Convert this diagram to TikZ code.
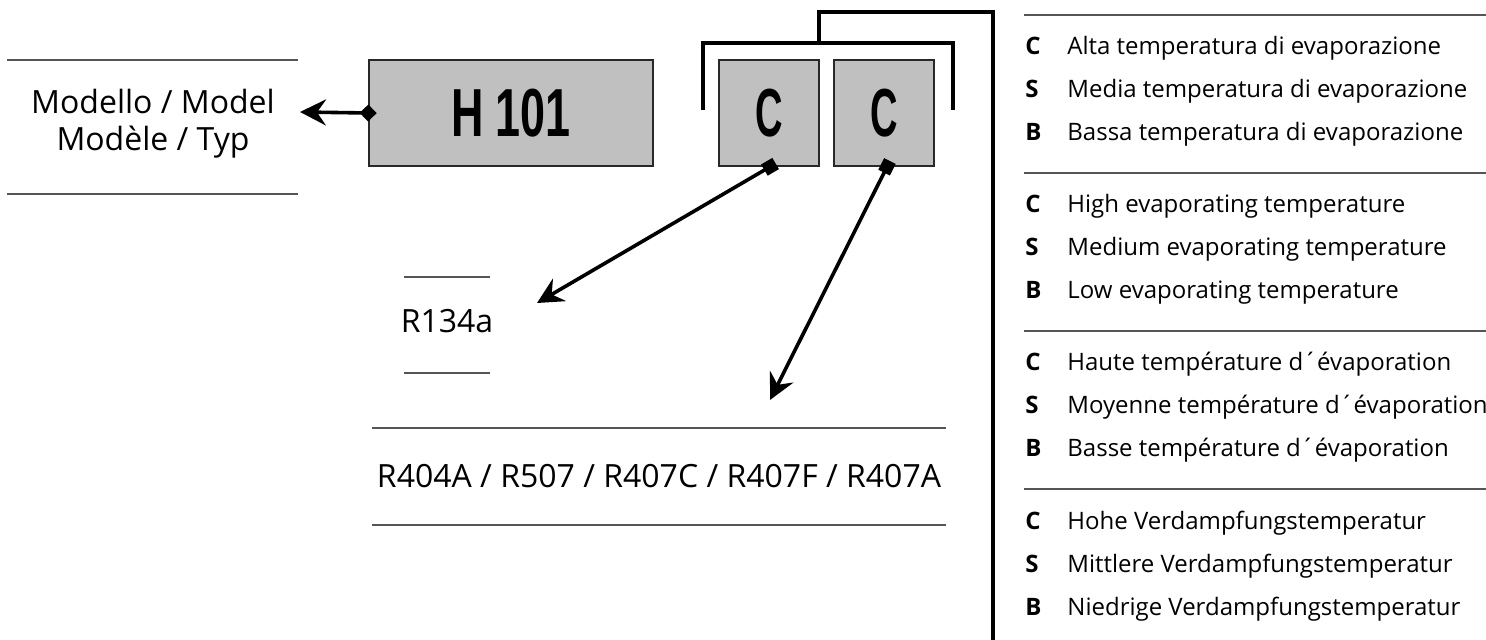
\documentclass[tikz,border=0pt]{standalone}
\usepackage{fontspec}
\usepackage{graphicx}
\setmainfont{Open Sans}
\newfontfamily\codefont{Liberation Sans}
\usetikzlibrary{arrows.meta}
\definecolor{boxfill}{RGB}{192,192,192}
\definecolor{boxedge}{RGB}{40,40,40}
\definecolor{rulegray}{RGB}{85,85,85}
\begin{document}
\begin{tikzpicture}[x=0.5pt,y=-0.5pt,
  rulel/.style={draw=rulegray, line width=0.7pt},
  codebox/.style={draw=boxedge, fill=boxfill, line width=0.8pt, inner sep=0pt,
    font=\codefont\bfseries\fontsize{34}{34}\selectfont},
  bigtext/.style={anchor=base, inner sep=0pt, font=\fontsize{16}{18}\selectfont},
  legkey/.style={anchor=base west, inner sep=0pt, font=\bfseries\fontsize{12}{14}\selectfont},
  legtext/.style={anchor=base west, inner sep=0pt, font=\fontsize{12}{14}\selectfont},
  conn/.style={line width=1.8pt},
  bracket/.style={line width=2pt, line join=miter, line cap=rect},
]
\useasboundingbox (0,0) rectangle (1486,640);

% left model label
\draw[rulel] (7,60) -- (298,60);
\draw[rulel] (7,194) -- (298,194);
\node[bigtext] (model1) at (153,114) {Modello / Model};
\node[bigtext] (model2) at (153,151) {Modèle / Typ};

% boxes
\node[codebox, minimum width=142pt, minimum height=53pt] (h) at (511,113) {\scalebox{0.66}[1]{H 101}};
\node[codebox, minimum width=50pt, minimum height=53pt] (c1) at (769,113) {\scalebox{0.56}[1]{C}};
\node[codebox, minimum width=50pt, minimum height=53pt] (c2) at (884,113) {\scalebox{0.56}[1]{C}};

% brackets
\draw[bracket] (703,108) |- (953,43) -- (953,108);
\draw[bracket] (819,43) |- (993,12) -- (993,642);

% refrigerants
\draw[rulel] (404,277) -- (490,277);
\draw[rulel] (404,373) -- (490,373);
\node[bigtext] (r134) at (447,333) {R134a};
\draw[rulel] (372,428) -- (946,428);
\draw[rulel] (372,525) -- (946,525);
\node[bigtext] (r404) at (659,487) {R404A / R507 / R407C / R407F / R407A};

% connectors
\coordinate (tipm) at (300,112);
\coordinate (tipa) at (537,303);
\coordinate (tipb) at (770,400);
\draw[conn, {Diamond[length=8.5pt,width=8.5pt]}-{Stealth[length=13pt,width=13pt,inset=4.5pt]}, shorten <=-4.25pt] (h.west) -- (tipm);
\draw[conn, {Square[length=6.5pt,width=6.5pt]}-{Stealth[length=13pt,width=13pt,inset=4.5pt]}, shorten <=-3.25pt] ([xshift=0.5pt]c1.south) -- (tipa);
\draw[conn, {Square[length=6.5pt,width=6.5pt]}-{Stealth[length=13pt,width=13pt,inset=4.5pt]}, shorten <=-3.25pt] ([xshift=1.5pt]c2.south) -- (tipb);

% legend
\draw[rulel] (1024,15) -- (1486,15);
\draw[rulel] (1024,173) -- (1486,173);
\draw[rulel] (1024,331) -- (1486,331);
\draw[rulel] (1024,489) -- (1486,489);

\node[legkey] (k1) at (1025,55) {C};
\node[legtext] (t1) at (1067,55) {Alta temperatura di evaporazione};
\node[legkey] (k2) at (1025,98) {S};
\node[legtext] (t2) at (1067,98) {Media temperatura di evaporazione};
\node[legkey] (k3) at (1025,141) {B};
\node[legtext] (t3) at (1067,141) {Bassa temperatura di evaporazione};

\node[legkey] (k4) at (1025,213) {C};
\node[legtext] (t4) at (1067,213) {High evaporating temperature};
\node[legkey] (k5) at (1025,256) {S};
\node[legtext] (t5) at (1067,256) {Medium evaporating temperature};
\node[legkey] (k6) at (1025,299) {B};
\node[legtext] (t6) at (1067,299) {Low evaporating temperature};

\node[legkey] (k7) at (1025,371) {C};
\node[legtext] (t7) at (1067,371) {Haute température d´évaporation};
\node[legkey] (k8) at (1025,414) {S};
\node[legtext] (t8) at (1067,414) {Moyenne température d´évaporation};
\node[legkey] (k9) at (1025,457) {B};
\node[legtext] (t9) at (1067,457) {Basse température d´évaporation};

\node[legkey] (k10) at (1025,529) {C};
\node[legtext] (t10) at (1067,529) {Hohe Verdampfungstemperatur};
\node[legkey] (k11) at (1025,572) {S};
\node[legtext] (t11) at (1067,572) {Mittlere Verdampfungstemperatur};
\node[legkey] (k12) at (1025,615) {B};
\node[legtext] (t12) at (1067,615) {Niedrige Verdampfungstemperatur};
\end{tikzpicture}
\end{document}
